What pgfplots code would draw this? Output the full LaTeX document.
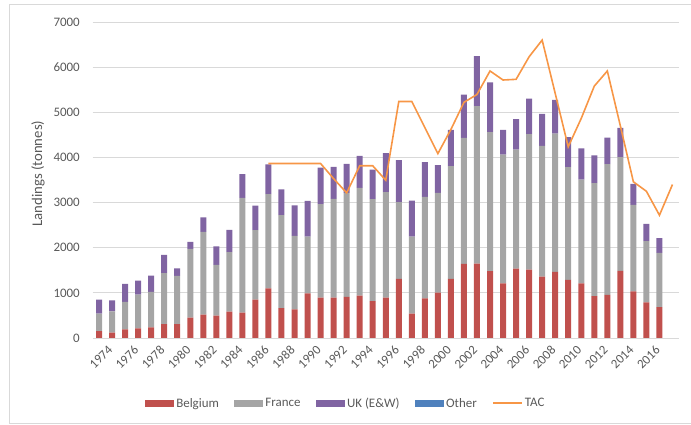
\documentclass[border=0pt]{standalone}
\usepackage{pgfplots}
\pgfplotsset{compat=1.18}
\usepackage{fontspec}
\setmainfont{Carlito}
\definecolor{belg}{HTML}{C0504D}
\definecolor{fra}{HTML}{A5A5A5}
\definecolor{ukc}{HTML}{8064A2}
\definecolor{oth}{HTML}{4F81BD}
\definecolor{tac}{HTML}{F79646}
\definecolor{txt}{HTML}{595959}
\definecolor{gridc}{HTML}{D9D9D9}
\definecolor{frame}{HTML}{D9D9D9}
\begin{document}
\begin{tikzpicture}
\useasboundingbox (0bp,0bp) rectangle (691bp,425bp);
\draw[color=frame, line width=0.8bp] (700bp,421bp) -- (9.5bp,421bp) -- (9.5bp,2bp) -- (700bp,2bp);
\begin{axis}[
  at={(92.5bp,87bp)}, anchor=south west, scale only axis,
  width=586.5bp, height=316bp,
  xmin=1973.5, xmax=2018.5, ymin=0, ymax=7000,
  ybar stacked, bar width=6bp,
  axis line style={draw=none},
  major tick length=0pt,
  ymajorgrids, grid style={draw=gridc, line width=0.8bp},
  xtick={1974,1976,...,2016}, ytick={0,1000,...,7000},
  /pgf/number format/1000 sep={},
  /pgf/number format/assume math mode=true,
  tick label style={font=\fontsize{13}{15}\selectfont, text=txt},
  xticklabel style={rotate=45, anchor=east, inner sep=0pt, xshift=1bp, yshift=-15bp},
  yticklabel style={anchor=east, inner sep=0pt, xshift=-12.5bp},
  ylabel={Landings (tonnes)},
  every axis y label/.style={at={(rel axis cs:-0.0929,0.52)}, rotate=90, anchor=center, font=\fontsize{14.8}{17}\selectfont, text=txt},
  legend columns=5,
  legend cell align=left,
  legend style={at={(0.09,-0.2066)}, anchor=west, draw=none, fill=none, inner sep=0pt, outer sep=0pt,
    font=\fontsize{13}{15}\selectfont, text=txt,
    /tikz/every even column/.append style={column sep=13.5bp},
    nodes={inner sep=2bp}},
]
\addplot[fill=belg, draw=none, legend image code/.code={\fill[belg] (0bp,-3.5bp) rectangle (29bp,3.5bp);}] coordinates {
(1974,150) (1975,120) (1976,190) (1977,215) (1978,235) (1979,310) (1980,310) (1981,450) (1982,520) (1983,495)
(1984,585) (1985,560) (1986,850) (1987,1100) (1988,660) (1989,635) (1990,990) (1991,895) (1992,895) (1993,910)
(1994,940) (1995,815) (1996,895) (1997,1310) (1998,540) (1999,880) (2000,1005) (2001,1310) (2002,1640) (2003,1650)
(2004,1480) (2005,1210) (2006,1535) (2007,1515) (2008,1360) (2009,1465) (2010,1285) (2011,1210) (2012,930) (2013,955)
(2014,1485) (2015,1035) (2016,790) (2017,685)};
\addlegendentry{Belgium}
\addplot[fill=fra, draw=none, legend image code/.code={\fill[fra] (0bp,-3.5bp) rectangle (29bp,3.5bp);}] coordinates {
(1974,390) (1975,470) (1976,610) (1977,745) (1978,785) (1979,1125) (1980,1065) (1981,1525) (1982,1830) (1983,1125)
(1984,1315) (1985,2545) (1986,1540) (1987,2085) (1988,2060) (1989,1625) (1990,1255) (1991,2070) (1992,2185) (1993,2305)
(1994,2385) (1995,2260) (1996,2335) (1997,1700) (1998,1705) (1999,2245) (2000,2210) (2001,2495) (2002,2795) (2003,3485)
(2004,3080) (2005,2850) (2006,2640) (2007,3000) (2008,2895) (2009,3060) (2010,2500) (2011,2300) (2012,2500) (2013,2895)
(2014,2520) (2015,1915) (2016,1355) (2017,1200)};
\addlegendentry{France}
\addplot[fill=ukc, draw=none, legend image code/.code={\fill[ukc] (0bp,-3.5bp) rectangle (29bp,3.5bp);}] coordinates {
(1974,310) (1975,245) (1976,400) (1977,310) (1978,360) (1979,405) (1980,165) (1981,155) (1982,320) (1983,410)
(1984,495) (1985,525) (1986,545) (1987,660) (1988,575) (1989,680) (1990,795) (1991,810) (1992,710) (1993,645)
(1994,710) (1995,655) (1996,865) (1997,930) (1998,800) (1999,770) (2000,615) (2001,805) (2002,955) (2003,1110)
(2004,1100) (2005,550) (2006,675) (2007,790) (2008,710) (2009,750) (2010,665) (2011,690) (2012,615) (2013,590)
(2014,650) (2015,465) (2016,385) (2017,330)};
\addlegendentry{UK (E\&W)}
\addplot[fill=oth, draw=none, legend image code/.code={\fill[oth] (0bp,-3.5bp) rectangle (29bp,3.5bp);}] coordinates {
(1974,0) (1975,0) (1976,0) (1977,0) (1978,0) (1979,0) (1980,0) (1981,0) (1982,0) (1983,0)
(1984,0) (1985,0) (1986,0) (1987,0) (1988,0) (1989,0) (1990,0) (1991,0) (1992,0) (1993,0)
(1994,0) (1995,0) (1996,0) (1997,0) (1998,0) (1999,0) (2000,0) (2001,0) (2002,0) (2003,0)
(2004,0) (2005,0) (2006,0) (2007,0) (2008,0) (2009,0) (2010,0) (2011,0) (2012,0) (2013,0)
(2014,0) (2015,0) (2016,0) (2017,0)};
\addlegendentry{Other}
\addlegendimage{legend image code/.code={\draw[tac, line width=1.6bp] (0bp,0bp) -- (29bp,0bp);}}
\addlegendentry{TAC}
\end{axis}
\begin{axis}[
  at={(92.5bp,87bp)}, anchor=south west, scale only axis,
  width=586.5bp, height=316bp,
  xmin=1973.5, xmax=2018.5, ymin=0, ymax=7000,
  hide axis,
]
\addplot[tac, line width=1.6bp, mark=none] coordinates {
(1987,3865) (1988,3865) (1989,3865) (1990,3865) (1991,3865) (1992,3530) (1993,3215) (1994,3815) (1995,3815) (1996,3495)
(1997,5240) (1998,5240) (1999,4660) (2000,4085) (2001,4620) (2002,5220) (2003,5395) (2004,5915) (2005,5715) (2006,5730)
(2007,6230) (2008,6600) (2009,5420) (2010,4235) (2011,4865) (2012,5580) (2013,5915) (2014,4700) (2015,3460) (2016,3250)
(2017,2720) (2018,3400)};
\end{axis}
\end{tikzpicture}
\end{document}
